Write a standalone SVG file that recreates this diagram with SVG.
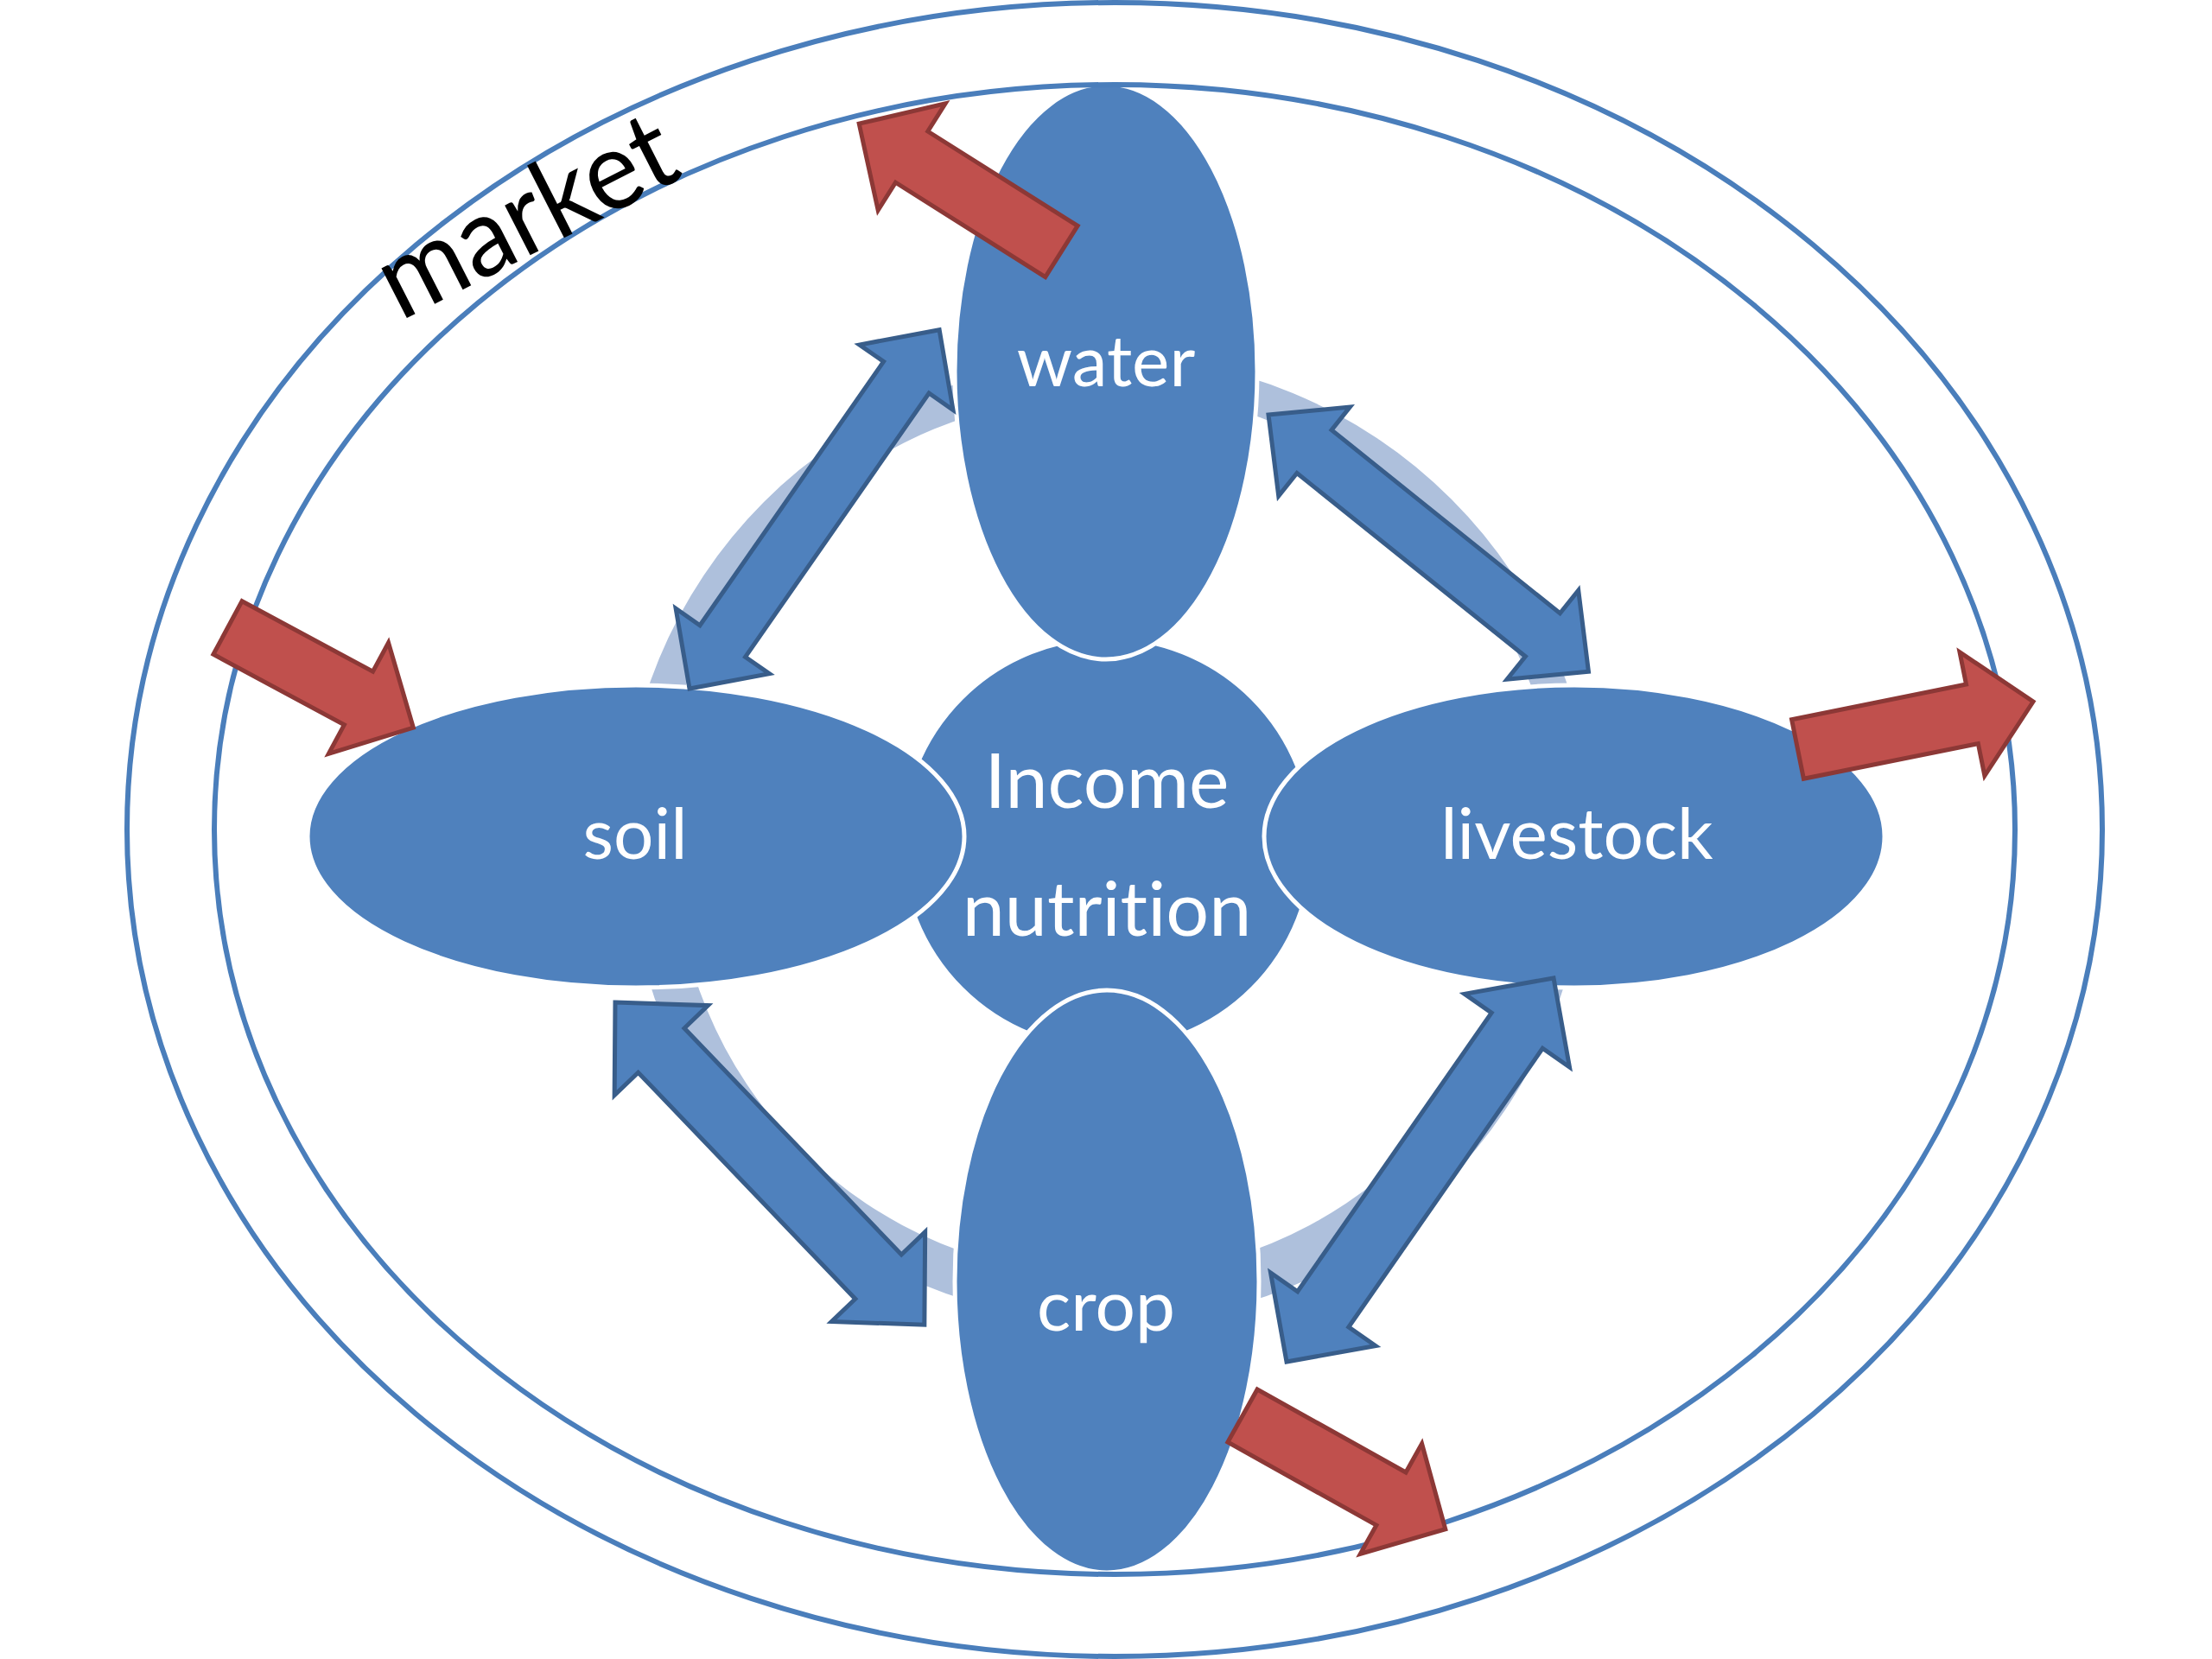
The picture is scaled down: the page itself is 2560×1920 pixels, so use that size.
<svg xmlns="http://www.w3.org/2000/svg" width="2560" height="1920" viewBox="0 0 2560 1920">
<style>
.node{fill:#4F81BD;stroke:#FFFFFF;stroke-width:5}
.lbl{font-family:Lato,"Open Sans","Liberation Sans",sans-serif;fill:#FFFFFF;text-anchor:middle;font-variant-ligatures:none;font-feature-settings:"liga" 0}
.ring{fill:#AEC0DC}
.band{fill:none;stroke:#4A7EBB;stroke-width:6}
.dbl{fill:#4F81BD;stroke:#385D8A;stroke-width:5;stroke-linejoin:miter}
.red{fill:#C0504D;stroke:#8C3836;stroke-width:5;stroke-linejoin:miter}
</style>
<rect width="2560" height="1920" fill="#FFFFFF"/>
<g id="cycle-shading">
<path class="ring" d="M720,977 A560,560 0 0 1 1280,417 L1280,457 A520,520 0 0 0 760,977 Z"/>
<path class="ring" d="M1280,412 A565,565 0 0 1 1845,977 L1805,977 A525,525 0 0 0 1280,452 Z"/>
<path class="ring" d="M1835,977 A555,555 0 0 1 1280,1532 L1280,1477 A500,500 0 0 0 1780,977 Z"/>
<path class="ring" d="M1280,1529 A552,552 0 0 1 728,977 L780,977 A500,500 0 0 0 1280,1477 Z"/>
</g>
<g id="income">
<circle class="node" cx="1281" cy="976" r="238" stroke="none"/>
<text class="lbl" x="1281" y="935" font-size="88">Income</text>
<text class="lbl" x="1281" y="1083" font-size="88">nutrition</text>
</g>
<g id="water">
<ellipse class="node" cx="1280" cy="430" rx="175" ry="333"/>
<text class="lbl" x="1280" y="447" font-size="82">water</text>
</g>
<g id="crop">
<ellipse class="node" cx="1281" cy="1483" rx="176" ry="337"/>
<text class="lbl" x="1280" y="1540" font-size="82">crop</text>
</g>
<g id="soil">
<ellipse class="node" cx="736" cy="968" rx="380" ry="175"/>
<text class="lbl" x="735" y="994" font-size="82">soil</text>
</g>
<g id="livestock">
<ellipse class="node" cx="1822" cy="968" rx="359" ry="175"/>
<text class="lbl" x="1825" y="994" font-size="82">livestock</text>
</g>
<g id="market">
<ellipse class="band" cx="1290" cy="960" rx="1143" ry="957"/>
<ellipse class="band" cx="1290" cy="960" rx="1042" ry="862"/>
<text x="628" y="288" transform="rotate(-27 628 288)" font-family="Lato,'Open Sans','Liberation Sans',sans-serif" font-size="128" fill="#000000" text-anchor="middle" textLength="370" lengthAdjust="spacingAndGlyphs">market</text>
</g>
<g id="connectors">
<path class="dbl" transform="translate(798 797) rotate(-55.15)" d="M0,0 L67,-66 L67,-32 L439,-32 L439,-66 L506,0 L439,66 L439,32 L67,32 L67,66 Z"/>
<path class="dbl" transform="translate(1468 480) rotate(38.75)" d="M0,0 L68,-66 L68,-32 L407,-32 L407,-66 L475,0 L407,66 L407,32 L68,32 L68,66 Z"/>
<path class="dbl" transform="translate(712 1160) rotate(46.2)" d="M0,0 L77,-75 L77,-37 L440,-37 L440,-75 L517,0 L440,75 L440,37 L77,37 L77,75 Z"/>
<path class="dbl" transform="translate(1489 1576) rotate(-55.17)" d="M0,0 L74,-74 L74,-36 L467,-36 L467,-74 L541,0 L467,74 L467,36 L74,36 L74,74 Z"/>
<path class="red" transform="translate(1228.5 291) rotate(-147.75)" d="M0,-35 L205,-35 L205,-73 L277,0 L205,73 L205,35 L0,35 Z"/>
<path class="red" transform="translate(263.5 726.5) rotate(28.3)" d="M0,-35 L172,-35 L172,-73 L244,0 L172,73 L172,35 L0,35 Z"/>
<path class="red" transform="translate(2080.5 867) rotate(-11.4)" d="M0,-35 L206,-35 L206,-73 L278,0 L206,73 L206,35 L0,35 Z"/>
<path class="red" transform="translate(1438 1638.5) rotate(29.2)" d="M0,-35 L197,-35 L197,-73 L269,0 L197,73 L197,35 L0,35 Z"/>
</g>
</svg>
